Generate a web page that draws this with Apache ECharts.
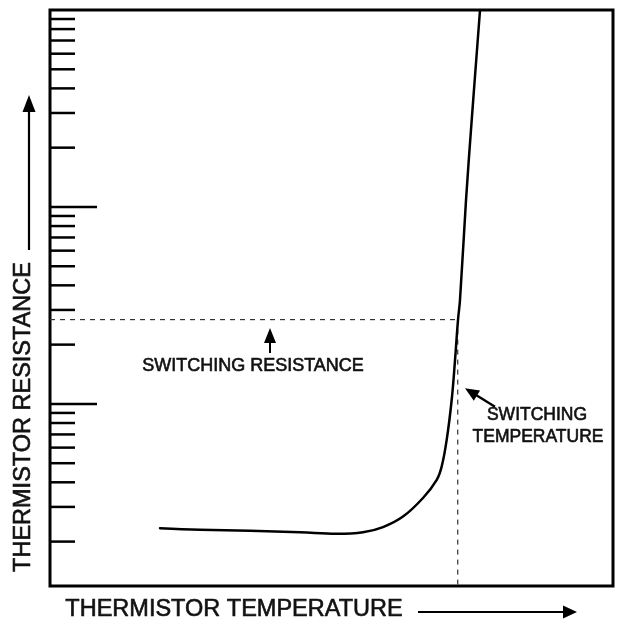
<!DOCTYPE html>
<html>
<head>
<meta charset="utf-8">
<script src="https://cdn.jsdelivr.net/npm/echarts@6/dist/echarts.min.js"></script>
<style>
html,body{margin:0;padding:0;background:#fff;}
#chart{width:628px;height:622px;}
</style>
</head>
<body>
<div id="chart"></div>
<script>
// Curve: thermistor temperature (arbitrary units) vs resistance (log scale, arbitrary units)
const temperature = [19.54, 26.64, 35.52, 44.40, 50.92, 55.60, 59.15, 62.70, 66.25, 68.69, 69.57, 70.46, 71.35, 71.94, 72.47, 72.82, 73.89, 74.90, 76.38];
const resistance  = [2.34, 2.30, 2.27, 2.23, 2.19, 2.23, 2.37, 2.68, 3.33, 4.12, 4.81, 6.57, 10.5, 16.7, 26.7, 33.6, 108, 275, 1000];

// Switching point
const switchTemp = 72.42;
const switchRes = 26.8;

// Axis ranges
const xRange = [0, 100];
const yRange = [1.19, 1000];

// Log-axis tick values (decades get long ticks)
const tickValues = [2,3,4,5,6,7,8,9,10,20,30,40,50,60,70,80,90,100,200,300,400,500,600,700,800,900];

// Texts
const xTitle = 'THERMISTOR TEMPERATURE';
const yTitle = 'THERMISTOR RESISTANCE';
const resLabel = 'SWITCHING RESISTANCE';
const tempLabel = ['SWITCHING', 'TEMPERATURE'];

const FONT = 'Liberation Sans, Arial, Helvetica, sans-serif';

function arrow(x1, y1, x2, y2, headLen, headW, lw) {
  const dx = x2 - x1, dy = y2 - y1;
  const L = Math.sqrt(dx*dx + dy*dy);
  const ux = dx / L, uy = dy / L;
  const bx = x2 - ux * headLen, by = y2 - uy * headLen;
  const px = -uy, py = ux;
  return [
    { type: 'line', shape: { x1: x1, y1: y1, x2: bx + ux*2, y2: by + uy*2 }, style: { stroke: '#000', lineWidth: lw }, silent: true },
    { type: 'polygon', shape: { points: [[x2, y2], [bx + px*headW/2, by + py*headW/2], [bx - px*headW/2, by - py*headW/2]] }, style: { fill: '#000' }, silent: true }
  ];
}

function txt(x, y, s, size, rot) {
  return { type: 'text', x: x, y: y, rotation: rot || 0, silent: true,
    style: { text: s, font: size + 'px ' + FONT, fill: '#111', stroke: '#111', lineWidth: 0.6, textAlign: 'center', textVerticalAlign: 'middle' } };
}

const chart = echarts.init(document.getElementById('chart'), null, { renderer: 'canvas' });

const curveData = temperature.map((t, i) => [t, resistance[i]]);
const tickData = tickValues.map(v => [xRange[0], v]);

const graphics = [
  txt(234, 610, xTitle, 23.5),
  txt(23.5, 417, yTitle, 23.5, Math.PI / 2),
  txt(253, 366, resLabel, 18),
  txt(537, 415.5, tempLabel[0], 17.5),
  txt(538, 437, tempLabel[1], 17.5)
]
.concat(arrow(418, 612, 577, 612, 14, 13, 2))
.concat(arrow(29, 250, 29, 95, 17, 13, 2.2))
.concat(arrow(270, 353, 270, 328, 15, 12, 2))
.concat(arrow(495, 406.7, 465, 388.3, 14, 12, 2.4));

chart.setOption({
  animation: false,
  backgroundColor: '#fff',
  grid: { left: 50, top: 10, right: 15, bottom: 36, show: true, borderColor: '#000', borderWidth: 3, backgroundColor: 'transparent' },
  xAxis: { type: 'value', min: xRange[0], max: xRange[1], axisLine: { show: false }, axisTick: { show: false }, axisLabel: { show: false }, splitLine: { show: false } },
  yAxis: { type: 'log', logBase: 10, min: yRange[0], max: yRange[1], axisLine: { show: false }, axisTick: { show: false }, axisLabel: { show: false }, splitLine: { show: false } },
  graphic: graphics,
  series: [
    {
      type: 'custom',
      silent: true,
      data: tickData,
      renderItem: function (params, api) {
        const v = api.value(1);
        const p = api.coord([api.value(0), v]);
        const lg = Math.log10(v);
        const major = Math.abs(lg - Math.round(lg)) < 1e-9;
        const len = major ? 47 : 25;
        return { type: 'line', shape: { x1: p[0], y1: p[1], x2: p[0] + len, y2: p[1] }, style: { stroke: '#000', lineWidth: 2.5 } };
      }
    },
    {
      type: 'line',
      silent: true,
      data: [[xRange[0], switchRes], [switchTemp, switchRes]],
      symbol: 'none',
      lineStyle: { color: '#333', width: 1.2, type: [5, 5] }
    },
    {
      type: 'line',
      silent: true,
      data: [[switchTemp, switchRes], [switchTemp, yRange[0]]],
      symbol: 'none',
      lineStyle: { color: '#333', width: 1.2, type: [5, 5] }
    },
    {
      type: 'line',
      silent: true,
      data: curveData,
      symbol: 'none',
      smooth: 0.4,
      lineStyle: { color: '#000', width: 2.5, join: 'round', cap: 'round' },
      z: 5
    }
  ]
});
</script>
</body>
</html>
